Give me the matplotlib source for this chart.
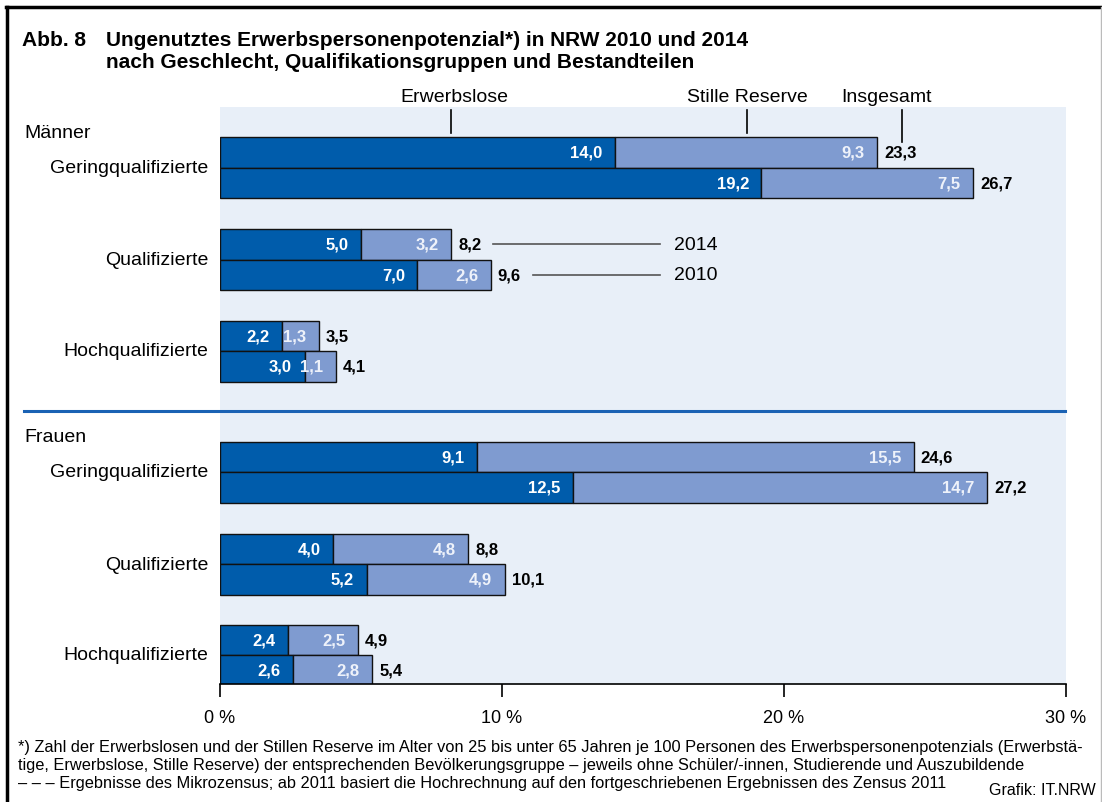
import matplotlib
matplotlib.use("Agg")
import matplotlib.pyplot as plt
from matplotlib.lines import Line2D

plt.rcParams['font.family'] = ['Liberation Sans', 'DejaVu Sans']

# data: Männer then Frauen, each group 2014 (top) / 2010 (bottom)
groups = ["Geringqualifizierte", "Qualifizierte", "Hochqualifizierte",
          "Geringqualifizierte", "Qualifizierte", "Hochqualifizierte"]
erwerbslose_2014 = [14.0, 5.0, 2.2, 9.1, 4.0, 2.4]
stille_2014 = [9.3, 3.2, 1.3, 15.5, 4.8, 2.5]
gesamt_2014 = [23.3, 8.2, 3.5, 24.6, 8.8, 4.9]
erwerbslose_2010 = [19.2, 7.0, 3.0, 12.5, 5.2, 2.6]
stille_2010 = [7.5, 2.6, 1.1, 14.7, 4.9, 2.8]
gesamt_2010 = [26.7, 9.6, 4.1, 27.2, 10.1, 5.4]
xticks = [0, 10, 20, 30]
xticklabels = ["0 %", "10 %", "20 %", "30 %"]

# layout (pixel units of the 1102x803 canvas)
W, H = 1102, 803
group_y = [168.5, 260.5, 352, 473, 565, 656]
bar_h = 30.5

dark = "#005CAB"
light = "#7F9BD0"
bg = "#E8EFF8"


def fx(px):
    return px / W


def fy(py):
    return 1 - py / H


def fmt(v):
    return f"{v:.1f}".replace(".", ",")


fig = plt.figure(figsize=(W / 100, H / 100), dpi=100)
ax = fig.add_axes([fx(220), fy(685), fx(1066) - fx(220), (685 - 108) / H])
ax.set_xlim(0, 30)
ax.set_ylim(685, 108)
ax.set_facecolor(bg)
for s in ["top", "right", "left"]:
    ax.spines[s].set_visible(False)
ax.spines["bottom"].set_linewidth(1.2)
ax.set_yticks([])
ax.set_xticks(xticks)
ax.set_xticklabels(xticklabels, fontsize=13)
ax.tick_params(axis="x", length=9, width=1.2, pad=9)

for i, g in enumerate(groups):
    for yr, (e, s, t) in enumerate([(erwerbslose_2014[i], stille_2014[i], gesamt_2014[i]),
                                    (erwerbslose_2010[i], stille_2010[i], gesamt_2010[i])]):
        yc = group_y[i] - bar_h / 2 + yr * bar_h
        ax.barh(yc, e, height=bar_h, color=dark, edgecolor="#111111", linewidth=1)
        ax.barh(yc, s, left=e, height=bar_h, color=light, edgecolor="#111111", linewidth=1)
        ax.annotate(fmt(e), (e, yc), xytext=(-9, 0), textcoords="offset points",
                    ha="right", va="center", color="white", fontsize=12, fontweight="bold")
        ax.annotate(fmt(s), (e + s, yc), xytext=(-9, 0), textcoords="offset points",
                    ha="right", va="center", color="#EEF2FA", fontsize=12, fontweight="bold")
        ax.annotate(fmt(t), (e + s, yc), xytext=(5, 0), textcoords="offset points",
                    ha="left", va="center", color="black", fontsize=12, fontweight="bold")
    fig.text(fx(208), fy(group_y[i]), g, ha="right", va="center", fontsize=14)

# year pointers
ax.plot([9.68, 15.6], [group_y[1] - bar_h / 2] * 2, color="#555555", lw=1.2)
ax.plot([11.1, 15.6], [group_y[1] + bar_h / 2] * 2, color="#555555", lw=1.2)
ax.text(16.1, group_y[1] - bar_h / 2, "2014", ha="left", va="center", fontsize=14)
ax.text(16.1, group_y[1] + bar_h / 2, "2010", ha="left", va="center", fontsize=14)

# component labels at the top
ax.plot([8.2, 8.2], [111, 134], color="black", lw=1.2, clip_on=False)
ax.plot([18.7, 18.7], [111, 134], color="black", lw=1.2, clip_on=False)
ax.plot([24.2, 24.2], [111, 143], color="black", lw=1.2, clip_on=False)
ax.text(8.3, 98, "Erwerbslose", ha="center", va="center", fontsize=14)
ax.text(18.7, 98, "Stille Reserve", ha="center", va="center", fontsize=14)
ax.text(23.65, 98, "Insgesamt", ha="center", va="center", fontsize=14)

# section labels and separator
fig.text(fx(24), fy(133), "Männer", ha="left", va="center", fontsize=14)
fig.text(fx(24), fy(438), "Frauen", ha="left", va="center", fontsize=14)
fig.add_artist(Line2D([fx(24), fx(1065)], [fy(412), fy(412)], color="#1A62B4", lw=2.2))

# title
fig.text(fx(22), fy(40), "Abb. 8", ha="left", va="center", fontsize=15, fontweight="bold")
fig.text(fx(106), fy(40), "Ungenutztes Erwerbspersonenpotenzial*) in NRW 2010 und 2014",
         ha="left", va="center", fontsize=15, fontweight="bold")
fig.text(fx(106), fy(62), "nach Geschlecht, Qualifikationsgruppen und Bestandteilen",
         ha="left", va="center", fontsize=15, fontweight="bold")

# footnotes
notes = ["*) Zahl der Erwerbslosen und der Stillen Reserve im Alter von 25 bis unter 65 Jahren je 100 Personen des Erwerbspersonenpotenzials (Erwerbstä-",
         "tige, Erwerbslose, Stille Reserve) der entsprechenden Bevölkerungsgruppe – jeweils ohne Schüler/-innen, Studierende und Auszubildende",
         "– – – Ergebnisse des Mikrozensus; ab 2011 basiert die Hochrechnung auf den fortgeschriebenen Ergebnissen des Zensus 2011"]
for k, line in enumerate(notes):
    fig.text(fx(18), fy(748 + 18 * k), line, ha="left", va="center", fontsize=11.8)
fig.text(fx(1096), fy(791), "Grafik: IT.NRW", ha="right", va="center", fontsize=11.5)

# frame
fig.add_artist(Line2D([fx(7), fx(7)], [fy(8), 0], color="black", lw=2.5))
fig.add_artist(Line2D([fx(6), fx(1101)], [fy(8), fy(8)], color="black", lw=2.5))
fig.add_artist(Line2D([fx(1101), fx(1101)], [fy(8), 0], color="#BBBBBB", lw=1))

fig.savefig("out.png", dpi=100)
